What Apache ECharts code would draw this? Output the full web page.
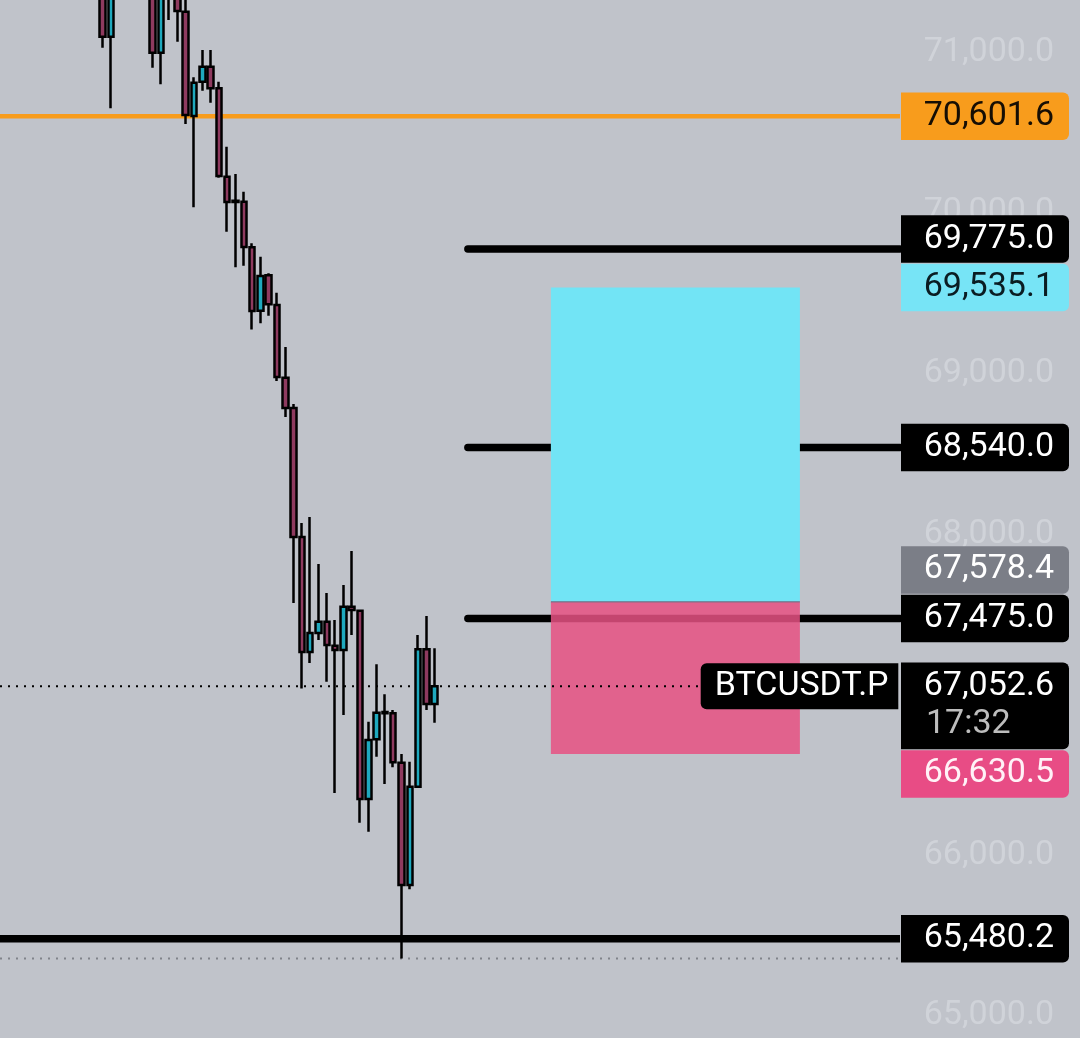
<!DOCTYPE html>
<html>
<head>
<meta charset="utf-8">
<script src="https://cdn.jsdelivr.net/npm/echarts@6/dist/echarts.min.js"></script>
<style>
html,body{margin:0;padding:0;background:#c0c3ca;}
#chart{width:1080px;height:1038px;}
</style>
</head>
<body>
<div id="chart"></div>
<script>
// ---- data (bar index = position in arrays) ----
const opens  = [71512.6, 71097.3, 71450, 71600, 71750, 71620, 71419.2, 70997.7, 71470, 71357.0, 71253.0, 70603.5, 70817.1, 70910.5, 70776.0, 70225.6, 70076.1, 70069.9, 69786.0, 69391.2, 69611.6, 69426.7, 68974.0, 68785.3, 67982.1, 67266.0, 67384.3, 67454.7, 67305.2, 67278.5, 67548.1, 67523.2, 66350.7, 66722.4, 66892.4, 66884.3, 66576.7, 65815.2, 66427.3, 67282.8, 66942.2];
const closes = [71097.3, 71450.4, 71600, 71750, 71620, 71500, 70997.7, 71388.1, 71380, 71257.3, 70609.8, 70810.9, 70910.5, 70776.0, 70229.9, 70068.0, 70068.0, 69787.8, 69389.3, 69607.3, 69431.0, 68978.4, 68785.3, 67982.1, 67266.0, 67384.3, 67454.7, 67309.6, 67278.5, 67548.1, 67527.5, 66350.7, 66718.1, 66888.1, 66884.3, 66579.2, 65815.2, 66427.3, 67282.8, 66942.2, 67052.6];
const lows   = [71028.8, 70651.5, 71400, 71560, 71560, 71420, 70904.3, 70800.9, 71201.3, 71066.2, 70553.7, 70035.0, 70761.1, 70686.3, 70219.3, 69883.1, 69661.4, 69671.4, 69274.1, 69312.7, 69360.1, 68953.5, 68729.3, 67571.1, 67038.7, 67197.5, 67340.7, 67081.1, 66388.1, 66873.7, 67371.9, 66203.1, 66147.1, 66614.1, 66444.1, 66548.1, 65358.0, 65788.4, 66420.0, 66904.9, 66825.8];
const highs  = [71699.4, 71574.9, 71680, 71820, 71800, 71660, 71512.6, 71481.5, 71520, 71420, 71340, 70844.5, 71014.5, 71014.5, 70817.1, 70412.4, 70242.4, 70132.2, 69810.9, 69727.4, 69624.1, 69503.3, 69165.2, 68810.2, 68069.3, 68106.6, 67814.0, 67633.4, 67465.3, 67683.2, 67894.9, 67527.5, 66832.0, 67189.4, 67002.6, 66904.9, 66630.9, 66583.0, 67371.9, 67490.2, 67289.1];

const tickValues = [65000, 66000, 67000, 68000, 69000, 70000, 71000];
const drawnLevels = [69775.0, 68540.0, 67475.0];
const orangeLevel = 70601.6;
const supportLevel = 65480.2;
const lowPrice = 65358.0;
const lastPrice = 67052.6;
const targetPrice = 69535.1;
const entryPrice = 67578.4;
const stopPrice = 66630.5;
const positionBars = [54, 84];
const levelStartBar = 44;
const symbolName = 'BTCUSDT.P';
const countdown = '17:32';

// visible windows of the two axes
const xMin = -12.37, xMax = 96.06;
const yMin = 64862.5, yMax = 71325.8;

const fmt = v => Number(v).toLocaleString('en-US', {minimumFractionDigits: 1, maximumFractionDigits: 1});

const candleData = opens.map((o, i) => [i, o, closes[i], lows[i], highs[i]]);
const hLine = (y, x0) => [[x0, y], [xMax, y]];

const FONT = 'Roboto, "Noto Sans", sans-serif';
const FS = 34;
const chart = echarts.init(document.getElementById('chart'), null, {renderer: 'canvas'});

const series = [];
series.push({
  type: 'line', data: hLine(orangeLevel, xMin), symbol: 'none', z: 2, silent: true,
  lineStyle: {color: '#f89c1c', width: 4.5}
});
drawnLevels.forEach(v => series.push({
  type: 'line', data: hLine(v, levelStartBar), symbol: 'none', z: 2, silent: true,
  lineStyle: {color: '#000', width: 7.5, cap: 'round'}
}));
series.push({
  type: 'line', data: hLine(supportLevel, xMin), symbol: 'none', z: 2, silent: true,
  lineStyle: {color: '#000', width: 7.5}
});
series.push({
  type: 'line', data: hLine(lowPrice, xMin), symbol: 'none', z: 2, silent: true,
  lineStyle: {color: '#80838a', width: 2, type: [2, 6]}
});
series.push({
  type: 'line', data: [[positionBars[0], entryPrice]], symbol: 'none', z: 3, silent: true,
  lineStyle: {width: 0},
  markArea: {
    silent: true, z: 3,
    data: [
      [{xAxis: positionBars[0], yAxis: entryPrice, itemStyle: {color: '#72e4f5'}}, {xAxis: positionBars[1], yAxis: targetPrice}],
      [{xAxis: positionBars[0], yAxis: stopPrice, itemStyle: {color: 'rgba(230,81,131,0.85)'}}, {xAxis: positionBars[1], yAxis: entryPrice}]
    ]
  }
});
series.push({
  type: 'line', data: [[positionBars[0], entryPrice], [positionBars[1], entryPrice]], symbol: 'none', z: 4, silent: true,
  lineStyle: {color: 'rgba(95,115,135,0.7)', width: 1.5}
});
series.push({
  type: 'line', data: hLine(lastPrice, xMin), symbol: 'none', z: 5, silent: true,
  lineStyle: {color: '#000', width: 2, type: [2, 6]}
});
series.push({
  type: 'candlestick', data: candleData, z: 6, barWidth: 6, silent: true,
  itemStyle: {color: '#1fa9be', color0: '#8e3a5f', borderColor: '#000', borderColor0: '#000', borderWidth: 2.5}
});

chart.setOption({
  animation: false,
  backgroundColor: '#c0c3ca',
  grid: {left: 0, right: 180, top: 0, bottom: 0, containLabel: false},
  xAxis: {type: 'value', min: xMin, max: xMax, show: false},
  yAxis: {
    type: 'value', position: 'right', min: yMin, max: yMax,
    splitLine: {show: false}, axisLine: {show: false}, axisTick: {show: false},
    axisLabel: {
      customValues: tickValues, showMinLabel: true, showMaxLabel: true,
      inside: false, margin: 154, align: 'right', color: '#d0d3d9',
      fontSize: FS, fontFamily: FONT, formatter: v => fmt(v)
    }
  },
  series: series
});

// ---- price-scale labels (positioned through the chart's own scales) ----
const px = v => chart.convertToPixel({yAxisIndex: 0}, v);
const gridRight = chart.convertToPixel({xAxisIndex: 0}, xMax);
const H = 47.5;
const boxLeft = gridRight + 1, boxW = 168, textRight = boxLeft + 153;

// priority order: earlier ones stay, later ones are pushed away
const labels = [
  {v: lastPrice, bg: '#000', fg: '#fff', rows: 2},
  {v: drawnLevels[2], bg: '#000', fg: '#fff'},
  {v: supportLevel, bg: '#000', fg: '#fff'},
  {v: drawnLevels[1], bg: '#000', fg: '#fff'},
  {v: orangeLevel, bg: '#f89c1c', fg: '#160e04'},
  {v: targetPrice, bg: '#77e4f6', fg: '#0a1c22'},
  {v: drawnLevels[0], bg: '#000', fg: '#fff'},
  {v: entryPrice, bg: '#7b7e87', fg: '#fff'},
  {v: stopPrice, bg: '#e84c85', fg: '#fff2f7'}
];
const placed = [];
labels.forEach(l => {
  const h = l.rows === 2 ? 86.7 : H;
  let top = px(l.v) - H / 2;
  for (let it = 0; it < 20; it++) {
    const hit = placed.find(p => top < p.bottom && top + h > p.top);
    if (!hit) break;
    const c = top + h / 2, pc = (hit.top + hit.bottom) / 2;
    if (c < pc) top = hit.top - 1 - h; else top = hit.bottom + 1;
  }
  l.top = top; l.h = h; l.bottom = top + h;
  placed.push(l);
});

const elements = [];
labels.forEach(l => {
  elements.push({type: 'rect', z: 100, shape: {x: boxLeft, y: l.top, width: boxW, height: l.h, r: [0, 6, 6, 0]}, style: {fill: l.bg}});
  elements.push({type: 'text', z: 101, style: {
    text: fmt(l.v), x: textRight, y: l.top + H / 2, fill: l.fg, font: FS + 'px ' + FONT,
    textAlign: 'right', textVerticalAlign: 'middle', align: 'right', verticalAlign: 'middle'
  }});
  if (l.rows === 2) {
    elements.push({type: 'text', z: 101, style: {
      text: countdown, x: boxLeft + 25, y: l.top + H / 2 + 38.5, fill: '#bdbdbd', font: FS + 'px ' + FONT,
      textAlign: 'left', textVerticalAlign: 'middle', align: 'left', verticalAlign: 'middle'
    }});
    const symW = 197.6;
    elements.push({type: 'rect', z: 100, shape: {x: gridRight - 1.7 - symW, y: px(l.v) - 23, width: symW, height: 46, r: [6, 0, 0, 6]}, style: {fill: '#000'}});
    elements.push({type: 'text', z: 101, style: {
      text: symbolName, x: gridRight - 1.7 - symW + 14, y: px(l.v), fill: '#fff', font: FS + 'px ' + FONT,
      textAlign: 'left', textVerticalAlign: 'middle', align: 'left', verticalAlign: 'middle'
    }});
  }
});
chart.setOption({graphic: {elements: elements}});
</script>
</body>
</html>
